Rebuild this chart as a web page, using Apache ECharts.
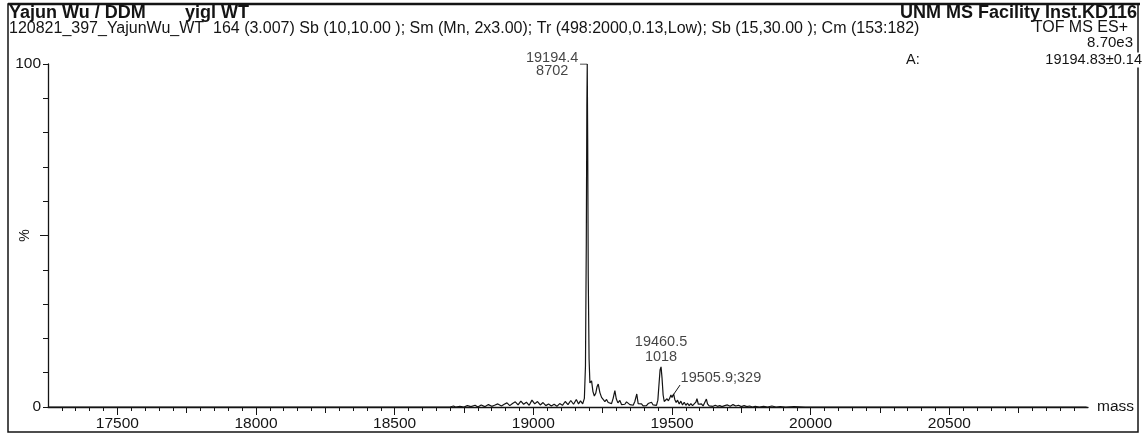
<!DOCTYPE html>
<html><head><meta charset="utf-8">
<script src="https://cdn.jsdelivr.net/npm/echarts@6/dist/echarts.min.js"></script>
<style>html,body{margin:0;padding:0;background:#fff}#c{width:1145px;height:436px}</style>
</head><body><div id="c"></div>
<script>
// ---- data (mass [Da], relative intensity [%]) ----
const spectrum = [
  [17250,0],[18700,0],[18712,0.3],[18720,0],[18735,0.2],[18750,0],[18762,0.4],[18775,0.1],[18790,0.5],[18800,0],
  [18812,0.6],[18825,0.1],[18838,0.7],[18850,0.2],[18860,0.5],[18872,0.9],[18885,0.3],[18895,0.8],[18905,1.2],[18915,0.4],
  [18925,1.0],[18935,1.5],[18945,0.6],[18955,1.7],[18965,0.8],[18975,1.4],[18985,0.5],[18995,2.0],[19005,0.9],[19015,1.6],
  [19025,0.6],[19035,1.3],[19045,0.4],[19055,0.9],[19065,0.3],[19075,0.8],[19085,0.2],[19095,1.0],[19105,0.5],[19115,1.6],
  [19125,0.7],[19135,1.9],[19145,0.8],[19155,2.2],[19163,0.9],[19170,1.8],[19178,0.9],[19184,2.5],[19188,12],[19191,48],
  [19193,88],[19194.4,100],[19196,78],[19198,38],[19201,14],[19204,7],[19207,6.5],[19210,7.6],[19215,4.5],[19220,3.2],
  [19225,4.0],[19230,6.0],[19234,6.7],[19240,4.2],[19246,2.8],[19252,3.3],[19258,1.6],[19264,2.2],[19270,1.3],[19276,1.8],
  [19282,1.0],[19288,2.6],[19294,4.8],[19299,2.4],[19305,1.2],[19312,1.9],[19318,0.7],[19324,1.2],[19330,0.8],[19336,1.5],
  [19342,1.8],[19348,0.7],[19354,1.1],[19360,0.5],[19366,1.6],[19373,3.8],[19378,1.0],[19384,0.5],[19390,0.9],[19396,0.3],
  [19402,0.8],[19408,0.4],[19414,1.0],[19420,0.5],[19426,1.4],[19432,0.6],[19438,0.9],[19444,0.5],[19449,2.0],[19453,6.5],
  [19457,10.8],[19460.5,11.7],[19464,8.5],[19468,3.5],[19472,1.6],[19477,1.2],[19482,2.4],[19487,1.8],[19492,2.6],[19496,3.5],
  [19500,2.8],[19505.9,3.8],[19510,2.2],[19515,1.3],[19520,2.0],[19526,0.9],[19532,1.7],[19538,0.6],[19544,1.4],[19550,0.5],
  [19556,1.1],[19562,0.4],[19568,1.0],[19574,0.4],[19580,0.8],[19586,1.4],[19590,2.4],[19595,0.8],[19600,0.4],[19606,0.9],
  [19612,0.3],[19618,0.8],[19624,2.3],[19628,0.9],[19634,0.3],[19640,0.7],[19648,0.2],[19656,0.5],[19664,0.2],[19672,0.4],
  [19680,0.1],[19690,0.4],[19700,0.6],[19710,0.2],[19720,0.7],[19730,0.3],[19740,0.5],[19750,0.1],[19760,0.4],[19770,0.1],
  [19780,0.3],[19790,0],[19800,0.2],[19815,0],[19830,0.2],[19845,0],[19860,0.3],[19875,0],[19890,0.1],[19910,0],
  [19940,0.1],[19980,0],[20050,0],[20995,0]
];
const peakMasses = [19194.4, 19460.5, 19505.9];
const peakLabels = ['19194.4\n8702', '19460.5\n1018', '19505.9;329'];
const xMajorTicks = [17500, 18000, 18500, 19000, 19500, 20000, 20500];
const yTickLabels = [0, 100];
const headerLeft = 'Yajun Wu / DDM';
const headerSample = 'yigl WT';
const headerRight = 'UNM MS Facility Inst.KD116';
const infoLine = '120821_397_YajunWu_WT  164 (3.007) Sb (10,10.00 ); Sm (Mn, 2x3.00); Tr (498:2000,0.13,Low); Sb (15,30.00 ); Cm (153:182)';
const modeText = 'TOF MS ES+';
const scaleText = '8.70e3';
const areaLabel = 'A:';
const areaValue = '19194.83\u00b10.14';

// ---- derived helpers ----
const X_MIN = 17250, X_MAX = 21000;
const xMediumTicks = [], xMinorTicks = [];
for (let m = 17300; m < X_MAX; m += 50) {
  if (m % 500 === 0) continue;
  if (m % 250 === 0) xMediumTicks.push(m); else xMinorTicks.push(m);
}
const intensityAt = m => spectrum.find(p => p[0] === m)[1];
const FONT = '"Liberation Sans", Arial, sans-serif';
const INK = '#141414';
const plain = v => String(v);

const labelStyles = [
  { position: 'left', distance: 35, align: 'center', lineHeight: 13 },
  { position: 'top', distance: 2, align: 'center', lineHeight: 15 },
  { position: [7, -23], align: 'left', verticalAlign: 'top', lineHeight: 15 }
];
const peakData = peakMasses.map((m, i) => ({
  value: [m, intensityAt(m)],
  label: Object.assign({ show: true, formatter: peakLabels[i], fontSize: 14.5, fontFamily: FONT, color: INK }, labelStyles[i])
}));

const axisCommon = {
  type: 'value', min: X_MIN, max: X_MAX, position: 'bottom', gridIndex: 0,
  splitLine: { show: false }
};
const tickLine = { color: INK, width: 1 };

const chart = echarts.init(document.getElementById('c'), null, { renderer: 'canvas' });
chart.setOption({
  animation: false,
  backgroundColor: '#fff',
  grid: { left: 48, right: 57, top: 64, bottom: 29, containLabel: false, outerBoundsMode: 'none' },
  xAxis: [
    Object.assign({}, axisCommon, {
      axisLine: { show: true, lineStyle: { color: INK, width: 1.3 } },
      axisTick: { show: true, customValues: xMajorTicks, length: 8, lineStyle: tickLine },
      axisLabel: { customValues: xMajorTicks, formatter: plain, margin: 9, fontSize: 15.5, fontFamily: FONT, color: INK },
      name: 'mass', nameLocation: 'end', nameGap: 9, nameMoveOverlap: false,
      nameTextStyle: { fontSize: 15.5, fontFamily: FONT, color: INK, verticalAlign: 'middle' }
    }),
    Object.assign({}, axisCommon, {
      axisLine: { show: false },
      axisTick: { show: true, customValues: xMediumTicks, length: 6, lineStyle: tickLine },
      axisLabel: { show: false }
    }),
    Object.assign({}, axisCommon, {
      axisLine: { show: false },
      axisTick: { show: true, customValues: xMinorTicks, length: 4, lineStyle: tickLine },
      axisLabel: { show: false }
    })
  ],
  yAxis: [
    {
      type: 'value', min: 0, max: 100, interval: 10,
      axisLine: { show: true, lineStyle: { color: INK, width: 1.3 } },
      axisTick: { show: true, length: 5, lineStyle: tickLine },
      axisLabel: { customValues: yTickLabels, formatter: plain, margin: 7, fontSize: 15.5, fontFamily: FONT, color: INK },
      splitLine: { show: false },
      name: '%', nameLocation: 'middle', nameGap: 16, nameRotate: 90, nameMoveOverlap: false,
      nameTextStyle: { fontSize: 14, fontFamily: FONT, color: INK }
    },
    {
      type: 'value', min: 0, max: 100, position: 'left',
      axisLine: { show: false },
      axisTick: { show: true, customValues: [50], length: 8, lineStyle: tickLine },
      axisLabel: { show: false }, splitLine: { show: false }
    }
  ],
  series: [
    {
      type: 'line', data: spectrum, xAxisIndex: 0, yAxisIndex: 0,
      symbol: 'none', lineStyle: { color: INK, width: 1.2 }, silent: true, z: 3
    },
    {
      type: 'line', xAxisIndex: 0, yAxisIndex: 0, symbol: 'none', silent: true,
      data: [[peakMasses[0] - 26, intensityAt(peakMasses[0])], [peakMasses[0], intensityAt(peakMasses[0])]],
      lineStyle: { color: INK, width: 1.2 }
    },
    {
      type: 'line', xAxisIndex: 0, yAxisIndex: 0, symbol: 'none', silent: true,
      data: [[peakMasses[2] - 6, intensityAt(peakMasses[2]) * 0.78], [peakMasses[2] + 23, intensityAt(peakMasses[2]) + 2.6]],
      lineStyle: { color: INK, width: 1 }
    },
    {
      type: 'scatter', xAxisIndex: 0, yAxisIndex: 0, symbolSize: 0.1,
      itemStyle: { color: INK }, silent: true, data: peakData, z: 5
    }
  ],
  graphic: [
    { type: 'rect', shape: { x: 8, y: 4, width: 1130, height: 428 }, style: { fill: 'none', stroke: INK, lineWidth: 1.5 }, silent: true },
    { type: 'line', shape: { x1: 8, y1: 4, x2: 1140, y2: 4 }, style: { stroke: INK, lineWidth: 2.5 }, silent: true },
    { type: 'text', x: 9, y: 13, style: { text: headerLeft, font: 'bold 18px ' + FONT, fill: INK, textVerticalAlign: 'middle' } },
    { type: 'text', x: 185, y: 13, style: { text: headerSample, font: 'bold 18px ' + FONT, fill: INK, textVerticalAlign: 'middle' } },
    { type: 'text', x: 1137, y: 13, style: { text: headerRight, font: 'bold 18px ' + FONT, fill: INK, textAlign: 'right', textVerticalAlign: 'middle' } },
    { type: 'text', x: 9, y: 29, style: { text: infoLine, font: '16px ' + FONT, fill: INK, textVerticalAlign: 'middle' } },
    { type: 'text', x: 1128, y: 28, style: { text: modeText, font: '16px ' + FONT, fill: INK, textAlign: 'right', textVerticalAlign: 'middle' } },
    { type: 'text', x: 1133, y: 43, style: { text: scaleText, font: '15px ' + FONT, fill: INK, textAlign: 'right', textVerticalAlign: 'middle' } },
    { type: 'text', x: 906, y: 60, style: { text: areaLabel, font: '14.5px ' + FONT, fill: INK, textVerticalAlign: 'middle' } },
    { type: 'text', x: 1142, y: 60, style: { text: areaValue, font: '14.5px ' + FONT, fill: INK, textAlign: 'right', textVerticalAlign: 'middle', backgroundColor: '#fff' } }
  ]
});
</script>
</body></html>
